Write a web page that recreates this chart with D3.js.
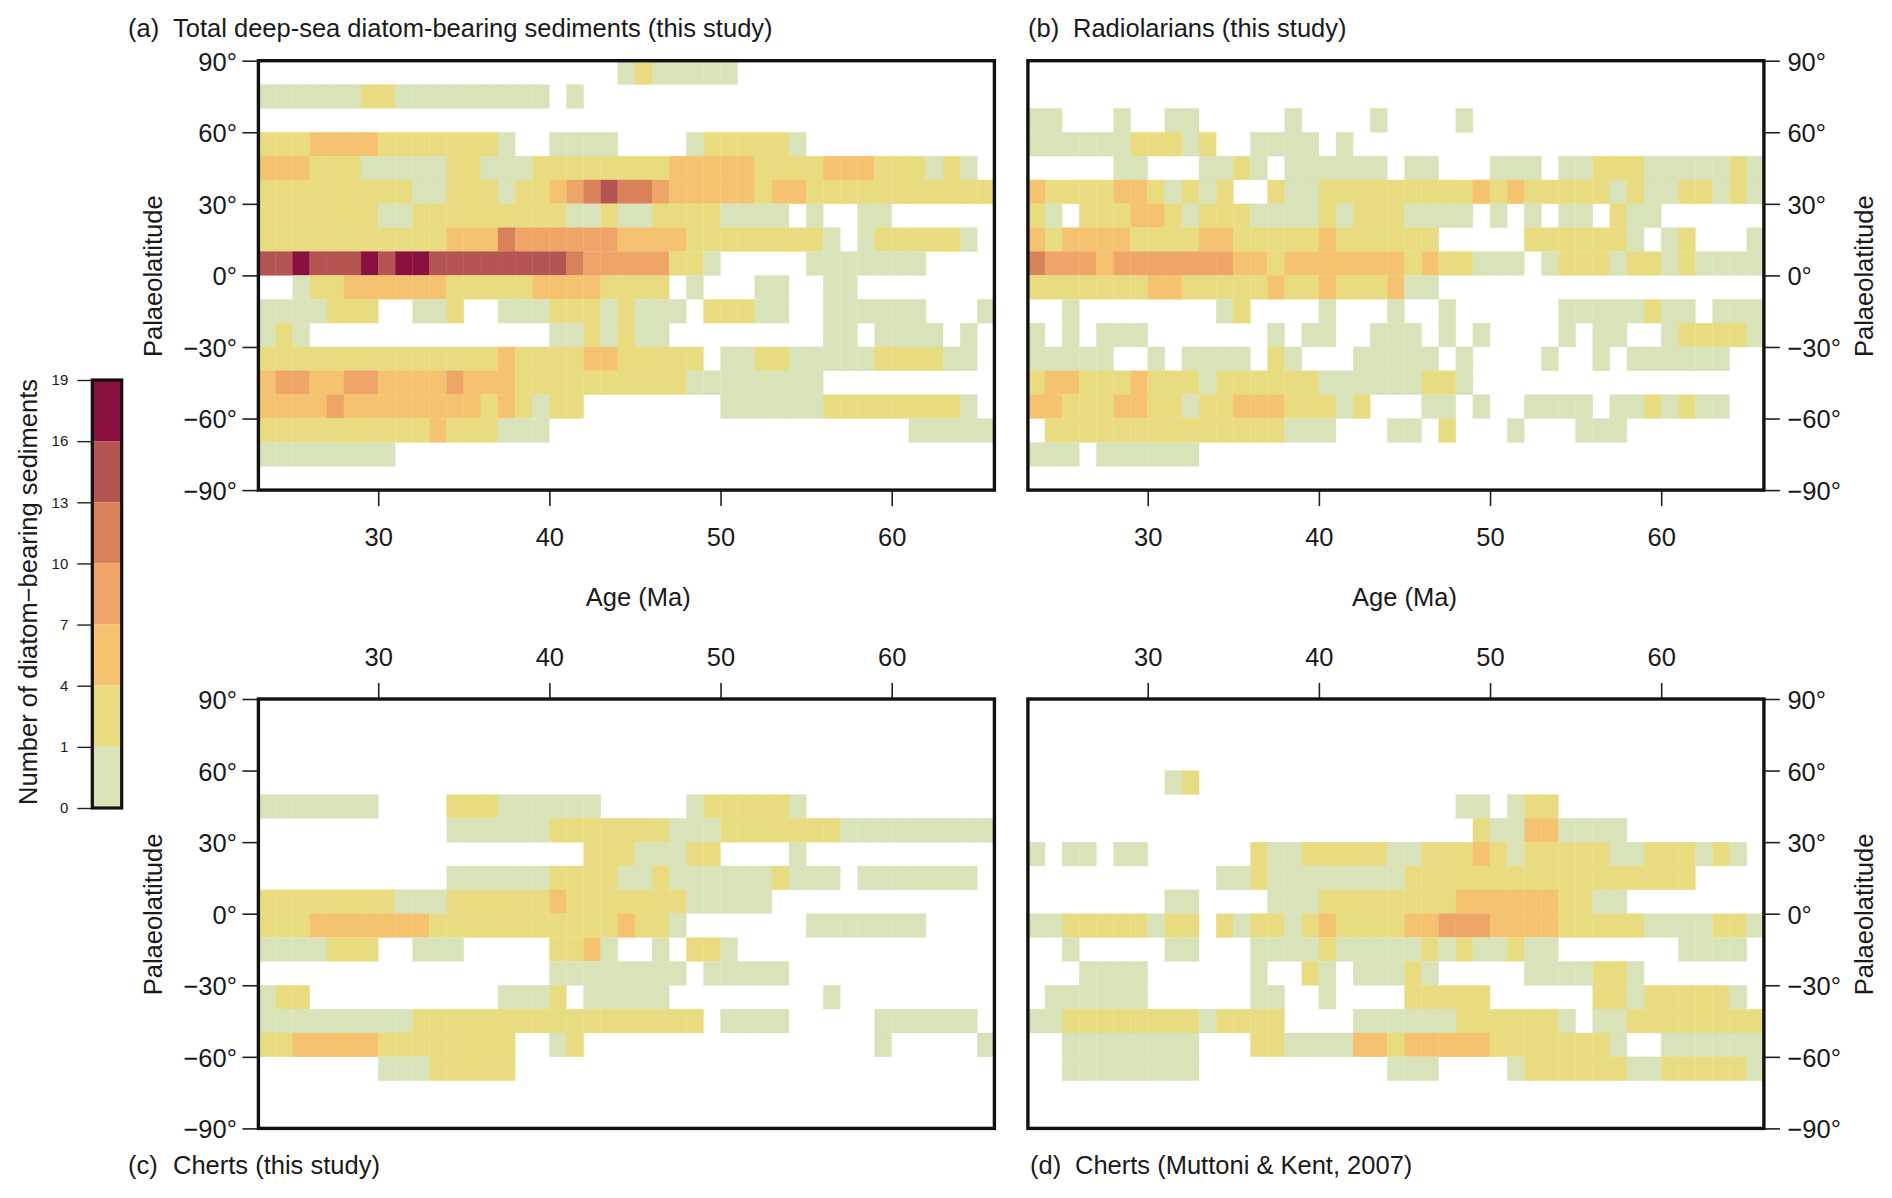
<!DOCTYPE html>
<html>
<head>
<meta charset="utf-8">
<script src="https://cdn.jsdelivr.net/npm/d3@7"></script>
<style>
body { margin: 0; background: #fff; }
text { font-family: "Liberation Sans", Arial, sans-serif; fill: #1a1a1a; }
</style>
</head>
<body>
<script>
// counts per cell, rows go from 80-90N down to 90-80S, columns are 1 Myr bins from 23 Ma
var diatoms = [
[0,0,0,0,0,0,0,0,0,0, 0,0,0,0,0,0,0,0,0,0, 0,1,3,1,1,1,1,1,0,0, 0,0,0,0,0,0,0,0,0,0, 0,0,0],
[1,1,1,1,1,1,3,3,1,1, 1,1,1,1,1,1,1,0,1,0, 0,0,0,0,0,0,0,0,0,0, 0,0,0,0,0,0,0,0,0,0, 0,0,0],
[0,0,0,0,0,0,0,0,0,0, 0,0,0,0,0,0,0,0,0,0, 0,0,0,0,0,0,0,0,0,0, 0,0,0,0,0,0,0,0,0,0, 0,0,0],
[3,3,3,6,6,6,6,3,3,3, 3,3,3,3,1,0,0,1,1,1, 1,0,0,0,0,1,3,3,3,3, 3,1,0,0,0,0,0,0,0,0, 0,0,0],
[6,6,6,3,3,3,1,1,1,1, 1,3,3,1,1,1,3,3,3,3, 3,3,3,3,6,6,6,6,6,3, 3,3,3,6,6,6,3,3,3,1, 3,1,0],
[3,3,3,3,3,3,3,3,3,1, 1,3,3,3,1,3,3,6,9,12, 15,12,12,9,6,6,6,6,6,3, 6,6,3,3,3,3,3,3,3,3, 3,3,3],
[3,3,3,3,3,3,3,1,1,3, 3,3,3,3,3,3,3,3,1,1, 3,1,1,3,3,3,3,1,1,1, 1,0,1,0,0,1,1,0,0,0, 0,0,0],
[3,3,3,3,3,3,3,3,3,3, 3,6,6,6,12,9,9,9,9,9, 9,6,6,6,6,3,3,3,3,3, 3,3,3,1,0,1,3,3,3,3, 3,1,0],
[15,15,18,15,15,15,18,15,18,18, 15,15,15,15,15,15,15,15,12,9, 9,9,9,9,3,3,1,0,0,0, 0,0,1,1,1,1,1,1,1,0, 0,0,0],
[0,0,1,3,3,6,6,6,6,6, 6,3,3,3,3,3,6,6,6,6, 3,3,3,3,0,1,0,0,0,1, 1,0,0,1,1,0,0,0,0,0, 0,0,0],
[1,1,1,1,3,3,3,0,0,1, 1,3,0,0,1,1,1,3,3,3, 1,3,1,1,1,0,3,3,3,1, 1,0,0,1,1,1,1,1,1,0, 0,0,1],
[1,3,1,0,0,0,0,0,0,0, 0,0,0,0,0,0,0,1,1,3, 1,3,1,1,0,0,0,0,0,0, 0,0,0,1,1,0,1,1,1,1, 0,1,0],
[3,3,3,3,3,3,3,3,3,3, 3,3,3,3,6,3,3,3,3,6, 6,3,3,3,3,3,0,1,1,3, 3,1,1,1,1,1,3,3,3,3, 1,1,0],
[6,9,9,6,6,9,9,6,6,6, 6,9,6,6,6,3,3,3,3,3, 3,3,3,3,3,1,1,1,1,1, 1,1,1,0,0,0,0,0,0,0, 0,0,0],
[6,6,6,6,9,6,6,6,6,6, 6,6,6,3,6,3,1,3,3,0, 0,0,0,0,0,0,0,1,1,1, 1,1,1,3,3,3,3,3,3,3, 3,1,0],
[3,3,3,3,3,3,3,3,3,3, 6,3,3,3,1,1,1,0,0,0, 0,0,0,0,0,0,0,0,0,0, 0,0,0,0,0,0,0,0,1,1, 1,1,1],
[1,1,1,1,1,1,1,1,0,0, 0,0,0,0,0,0,0,0,0,0, 0,0,0,0,0,0,0,0,0,0, 0,0,0,0,0,0,0,0,0,0, 0,0,0],
[0,0,0,0,0,0,0,0,0,0, 0,0,0,0,0,0,0,0,0,0, 0,0,0,0,0,0,0,0,0,0, 0,0,0,0,0,0,0,0,0,0, 0,0,0]
];

var radiolarians = [
[0,0,0,0,0,0,0,0,0,0, 0,0,0,0,0,0,0,0,0,0, 0,0,0,0,0,0,0,0,0,0, 0,0,0,0,0,0,0,0,0,0, 0,0,0],
[0,0,0,0,0,0,0,0,0,0, 0,0,0,0,0,0,0,0,0,0, 0,0,0,0,0,0,0,0,0,0, 0,0,0,0,0,0,0,0,0,0, 0,0,0],
[1,1,0,0,0,1,0,0,1,1, 0,0,0,0,0,1,0,0,0,0, 1,0,0,0,0,1,0,0,0,0, 0,0,0,0,0,0,0,0,0,0, 0,0,0],
[1,1,1,1,1,1,3,3,3,1, 3,0,0,1,1,1,1,0,1,0, 0,0,0,0,0,0,0,0,0,0, 0,0,0,0,0,0,0,0,0,0, 0,0,0],
[0,0,0,0,0,1,1,0,0,0, 1,1,3,1,0,1,1,1,1,1, 1,0,1,1,0,0,0,1,1,1, 0,1,1,3,3,3,1,1,1,1, 1,3,1],
[6,3,3,3,3,6,6,3,1,3, 1,3,0,0,3,1,1,3,3,3, 3,3,3,3,3,3,6,3,6,3, 3,3,3,3,1,3,1,1,3,3, 1,3,1],
[3,1,0,3,3,3,6,6,3,1, 3,3,3,1,1,1,1,3,1,3, 3,3,1,1,1,1,0,1,0,1, 0,1,1,0,3,1,1,0,0,0, 0,0,0],
[6,3,6,6,6,6,3,3,3,3, 6,6,3,3,3,3,3,6,3,3, 3,3,3,3,0,0,0,0,0,3, 3,3,3,3,3,1,0,1,3,0, 0,0,1],
[12,9,9,9,6,9,9,9,9,9, 9,9,6,6,3,6,6,6,6,6, 6,6,3,6,3,3,1,1,1,0, 1,3,3,3,1,3,3,1,3,1, 1,1,1],
[3,3,3,3,3,3,3,6,6,3, 3,3,3,3,6,3,3,6,3,3, 3,6,1,1,0,0,0,0,0,0, 0,0,0,0,0,0,0,0,0,0, 0,0,0],
[0,0,1,0,0,0,0,0,0,0, 0,1,3,0,0,0,0,1,0,0, 0,1,0,0,1,0,0,0,0,0, 0,1,1,1,1,1,3,1,1,0, 1,1,1],
[1,0,1,0,1,1,1,0,0,0, 0,0,0,0,1,0,1,1,0,0, 1,1,1,0,1,0,1,0,0,0, 0,1,0,1,1,0,0,1,3,3, 3,3,1],
[1,1,1,1,1,0,0,1,0,1, 1,1,1,0,3,1,0,0,0,1, 1,1,1,1,0,1,0,0,0,0, 1,0,0,1,0,1,1,1,1,1, 1,0,0],
[3,6,6,3,3,3,6,3,3,3, 1,3,3,3,3,3,3,1,1,1, 1,1,1,3,3,1,0,0,0,0, 0,0,0,0,0,0,0,0,0,0, 0,0,0],
[6,6,3,3,3,6,6,3,3,1, 3,3,6,6,6,3,3,3,1,3, 0,0,0,1,1,0,1,0,0,1, 1,1,1,0,1,1,3,1,3,1, 1,0,0],
[0,3,3,3,3,3,3,3,3,3, 3,3,3,3,3,1,1,1,0,0, 0,1,1,0,3,0,0,0,1,0, 0,0,1,1,1,0,0,0,0,0, 0,0,0],
[1,1,1,0,1,1,1,1,1,1, 0,0,0,0,0,0,0,0,0,0, 0,0,0,0,0,0,0,0,0,0, 0,0,0,0,0,0,0,0,0,0, 0,0,0],
[0,0,0,0,0,0,0,0,0,0, 0,0,0,0,0,0,0,0,0,0, 0,0,0,0,0,0,0,0,0,0, 0,0,0,0,0,0,0,0,0,0, 0,0,0]
];

var cherts = [
[0,0,0,0,0,0,0,0,0,0, 0,0,0,0,0,0,0,0,0,0, 0,0,0,0,0,0,0,0,0,0, 0,0,0,0,0,0,0,0,0,0, 0,0,0],
[0,0,0,0,0,0,0,0,0,0, 0,0,0,0,0,0,0,0,0,0, 0,0,0,0,0,0,0,0,0,0, 0,0,0,0,0,0,0,0,0,0, 0,0,0],
[0,0,0,0,0,0,0,0,0,0, 0,0,0,0,0,0,0,0,0,0, 0,0,0,0,0,0,0,0,0,0, 0,0,0,0,0,0,0,0,0,0, 0,0,0],
[0,0,0,0,0,0,0,0,0,0, 0,0,0,0,0,0,0,0,0,0, 0,0,0,0,0,0,0,0,0,0, 0,0,0,0,0,0,0,0,0,0, 0,0,0],
[1,1,1,1,1,1,1,0,0,0, 0,3,3,3,1,1,1,1,1,1, 0,0,0,0,0,1,3,3,3,3, 3,1,0,0,0,0,0,0,0,0, 0,0,0],
[0,0,0,0,0,0,0,0,0,0, 0,1,1,1,1,1,1,3,3,3, 3,3,3,3,1,1,1,3,3,3, 3,3,3,3,1,1,1,1,1,1, 1,1,1],
[0,0,0,0,0,0,0,0,0,0, 0,0,0,0,0,0,0,0,0,3, 3,3,1,1,1,3,3,0,0,0, 0,1,0,0,0,0,0,0,0,0, 0,0,0],
[0,0,0,0,0,0,0,0,0,0, 0,1,1,1,1,1,1,3,3,3, 3,1,1,3,1,1,1,1,1,1, 3,1,1,1,0,1,1,1,1,1, 1,1,0],
[3,3,3,3,3,3,3,3,1,1, 1,3,3,3,3,3,3,6,3,3, 3,3,3,3,3,1,1,1,1,1, 0,0,0,0,0,0,0,0,0,0, 0,0,0],
[3,3,3,6,6,6,6,6,6,6, 3,3,3,3,3,3,3,3,3,3, 3,6,3,3,1,0,0,0,0,0, 0,0,1,1,1,1,1,1,1,0, 0,0,0],
[1,1,1,1,3,3,3,0,0,1, 1,1,0,0,0,0,0,3,3,6, 1,0,0,1,0,3,3,1,0,0, 0,0,0,0,0,0,0,0,0,0, 0,0,0],
[0,0,0,0,0,0,0,0,0,0, 0,0,0,0,0,0,0,1,1,1, 1,1,1,1,1,0,1,1,1,1, 1,0,0,0,0,0,0,0,0,0, 0,0,0],
[1,3,3,0,0,0,0,0,0,0, 0,0,0,0,1,1,1,3,0,1, 1,1,1,1,0,0,0,0,0,0, 0,0,0,1,0,0,0,0,0,0, 0,0,0],
[1,1,1,1,1,1,1,1,1,3, 3,3,3,3,3,3,3,3,3,3, 3,3,3,3,3,3,0,1,1,1, 1,0,0,0,0,0,1,1,1,1, 1,1,0],
[3,3,6,6,6,6,6,3,3,3, 3,3,3,3,3,0,0,1,3,0, 0,0,0,0,0,0,0,0,0,0, 0,0,0,0,0,0,1,0,0,0, 0,0,1],
[0,0,0,0,0,0,0,1,1,1, 3,3,3,3,3,0,0,0,0,0, 0,0,0,0,0,0,0,0,0,0, 0,0,0,0,0,0,0,0,0,0, 0,0,0],
[0,0,0,0,0,0,0,0,0,0, 0,0,0,0,0,0,0,0,0,0, 0,0,0,0,0,0,0,0,0,0, 0,0,0,0,0,0,0,0,0,0, 0,0,0],
[0,0,0,0,0,0,0,0,0,0, 0,0,0,0,0,0,0,0,0,0, 0,0,0,0,0,0,0,0,0,0, 0,0,0,0,0,0,0,0,0,0, 0,0,0]
];

var chertsMK = [
[0,0,0,0,0,0,0,0,0,0, 0,0,0,0,0,0,0,0,0,0, 0,0,0,0,0,0,0,0,0,0, 0,0,0,0,0,0,0,0,0,0, 0,0,0],
[0,0,0,0,0,0,0,0,0,0, 0,0,0,0,0,0,0,0,0,0, 0,0,0,0,0,0,0,0,0,0, 0,0,0,0,0,0,0,0,0,0, 0,0,0],
[0,0,0,0,0,0,0,0,0,0, 0,0,0,0,0,0,0,0,0,0, 0,0,0,0,0,0,0,0,0,0, 0,0,0,0,0,0,0,0,0,0, 0,0,0],
[0,0,0,0,0,0,0,0,1,3, 0,0,0,0,0,0,0,0,0,0, 0,0,0,0,0,0,0,0,0,0, 0,0,0,0,0,0,0,0,0,0, 0,0,0],
[0,0,0,0,0,0,0,0,0,0, 0,0,0,0,0,0,0,0,0,0, 0,0,0,0,0,1,1,0,1,3, 3,0,0,0,0,0,0,0,0,0, 0,0,0],
[0,0,0,0,0,0,0,0,0,0, 0,0,0,0,0,0,0,0,0,0, 0,0,0,0,0,0,3,1,1,6, 6,1,1,1,1,0,0,0,0,0, 0,0,0],
[1,0,1,1,0,1,1,0,0,0, 0,0,0,3,1,1,3,3,3,3, 3,1,1,3,3,3,6,3,1,3, 3,3,3,3,1,1,3,3,3,1, 3,1,0],
[0,0,0,0,0,0,0,0,0,0, 0,1,1,3,1,1,1,1,1,1, 1,1,3,3,3,3,3,3,3,3, 3,3,3,3,3,3,3,3,3,0, 0,0,0],
[0,0,0,0,0,0,0,0,1,1, 0,0,0,0,1,1,1,3,3,3, 3,3,3,3,3,6,6,6,6,6, 6,3,3,1,1,0,0,0,0,0, 0,0,0],
[1,1,3,3,3,3,3,1,3,3, 0,3,1,3,3,1,3,6,3,3, 3,3,6,6,9,9,9,6,6,6, 6,3,3,3,3,3,1,1,1,1, 3,3,1],
[0,0,1,0,0,0,0,0,1,1, 0,0,0,1,1,1,1,3,1,1, 1,1,1,3,1,3,1,1,3,1, 1,0,0,0,0,0,0,0,1,1, 1,1,0],
[0,0,0,1,1,1,1,0,0,0, 0,0,0,1,0,0,3,1,0,1, 1,1,3,1,0,0,0,0,0,1, 1,1,1,3,3,1,0,0,0,0, 0,0,0],
[0,1,1,1,1,1,1,0,0,0, 0,0,0,1,1,0,0,1,0,0, 0,0,3,3,3,3,3,0,0,0, 0,0,0,3,3,1,3,3,3,3, 3,1,0],
[1,1,3,3,3,3,3,3,3,3, 1,3,3,3,3,0,0,0,0,1, 1,1,1,1,1,3,3,3,3,3, 3,1,0,1,1,3,3,3,3,3, 3,3,3],
[0,0,1,1,1,1,1,1,1,1, 0,0,0,3,3,1,1,1,1,6, 6,3,6,6,6,6,6,3,3,3, 3,3,3,3,1,0,0,1,1,1, 1,1,1],
[0,0,1,1,1,1,1,1,1,1, 0,0,0,0,0,0,0,0,0,0, 0,1,1,1,0,0,0,0,1,3, 3,3,3,3,3,1,1,3,3,3, 3,3,1],
[0,0,0,0,0,0,0,0,0,0, 0,0,0,0,0,0,0,0,0,0, 0,0,0,0,0,0,0,0,0,0, 0,0,0,0,0,0,0,0,0,0, 0,0,0],
[0,0,0,0,0,0,0,0,0,0, 0,0,0,0,0,0,0,0,0,0, 0,0,0,0,0,0,0,0,0,0, 0,0,0,0,0,0,0,0,0,0, 0,0,0]
];

var ageTicks = [30, 40, 50, 60];
var latTicks = [-90, -60, -30, 0, 30, 60, 90];
var legendLabels = ["19", "16", "13", "10", "7", "4", "1", "0"];
var colors = ["#d9e3b9", "#e9dc80", "#f5c270", "#eea567", "#d98159", "#b55551", "#8a1040"];

var w = 1892, h = 1198;
var fontSize = 25.5;
var svg = d3.select("body").append("svg")
  .attr("width", w)
  .attr("height", h)
  .style("display", "block");

// 1, 2-4, 5-7, 8-10, 11-13, 14-16, 17-19
var color = d3.scaleThreshold().domain([2, 5, 8, 11, 14, 17]).range(colors);

function latLabel(d) {
  return (d < 0 ? "\u2212" + (-d) : d) + "\u00b0";
}

function panel(counts, left, top, tag, tagX, title, titleX, side, xSide, xTitleX) {
  var x = d3.scaleLinear().domain([23, 66]).range([left, left + 736]);
  var y = d3.scaleLinear().domain([-90, 90]).range([top + 429.4, top]);
  var g = svg.append("g");

  counts.forEach(function(row, r) {
    g.append("g").selectAll("rect")
      .data(row.map(function(v, i) { return {v: v, age: 23 + i, lat: 90 - r * 10}; })
        .filter(function(d) { return d.v > 0; }))
      .enter()
      .append("rect")
      .attr("x", function(d) { return x(d.age); })
      .attr("y", function(d) { return y(d.lat); })
      .attr("width", function(d) { return x(d.age + 1) - x(d.age); })
      .attr("height", function(d) { return y(d.lat - 10) - y(d.lat); })
      .attr("fill", function(d) { return color(d.v); })
      .attr("stroke", function(d) { return color(d.v); })
      .attr("stroke-width", 0.3);
  });

  // x axis
  var xAxis = (xSide == "bottom" ? d3.axisBottom(x) : d3.axisTop(x))
    .tickValues(ageTicks).tickSize(16).tickPadding(xSide == "bottom" ? 21.6 : 17).tickFormat(d3.format("d"));
  g.append("g")
    .attr("transform", "translate(0," + (xSide == "bottom" ? top + 429.4 : top) + ")")
    .call(xAxis)
    .call(styleAxis);

  // y axis
  var yAxis = (side == "left" ? d3.axisLeft(y) : d3.axisRight(y))
    .tickValues(latTicks).tickSize(16).tickPadding(side == "left" ? 5.5 : 7.5).tickFormat(latLabel);
  g.append("g")
    .attr("transform", "translate(" + (side == "left" ? left : left + 736) + ",0)")
    .call(yAxis)
    .call(styleAxis)
    .selectAll(".tick text").attr("dy", "0.37em");

  // box
  g.append("rect")
    .attr("x", left)
    .attr("y", top)
    .attr("width", 736)
    .attr("height", 429.4)
    .attr("fill", "none")
    .attr("stroke", "#111")
    .attr("stroke-width", 3.4);

  // labels
  var labelY = top < 300 ? 36.7 : 1173.5;
  g.append("text").attr("x", tagX).attr("y", labelY)
    .attr("font-size", fontSize).text(tag);
  g.append("text").attr("x", titleX).attr("y", labelY)
    .attr("font-size", fontSize).text(title);

  var ylabX = side == "left" ? 161.7 : 1872.7;
  g.append("text")
    .attr("transform", "translate(" + ylabX + "," + (top + 215.5) + ") rotate(-90)")
    .attr("text-anchor", "middle")
    .attr("font-size", fontSize)
    .text("Palaeolatitude");

  if (xTitleX) {
    g.append("text")
      .attr("x", xTitleX)
      .attr("y", 606)
      .attr("text-anchor", "middle")
      .attr("font-size", fontSize)
      .text("Age (Ma)");
  }
}

function styleAxis(sel) {
  sel.select(".domain").remove();
  sel.selectAll(".tick line").attr("stroke", "#222").attr("stroke-width", 1.6);
  sel.selectAll(".tick text").attr("font-size", fontSize).attr("fill", "#1a1a1a");
}

panel(diatoms, 258.4, 60.7, "(a)", 128, "Total deep-sea diatom-bearing sediments (this study)", 173, "left", "bottom", 638.3);
panel(radiolarians, 1027.9, 60.7, "(b)", 1028, "Radiolarians (this study)", 1073, "right", "bottom", 1404.5);
panel(cherts, 258.4, 699, "(c)", 128, "Cherts (this study)", 173, "left", "top", null);
panel(chertsMK, 1027.9, 699, "(d)", 1030, "Cherts (Muttoni & Kent, 2007)", 1075, "right", "top", null);

// colour key
var keyY = d3.scalePoint().domain(legendLabels).range([380, 808]);
var key = svg.append("g");
legendLabels.slice(0, -1).forEach(function(d, i) {
  key.append("rect")
    .attr("x", 92.3)
    .attr("y", keyY(d))
    .attr("width", 29.4)
    .attr("height", keyY(legendLabels[i + 1]) - keyY(d))
    .attr("fill", colors[colors.length - 1 - i]);
});
key.append("g")
  .attr("transform", "translate(92.3,0)")
  .call(d3.axisLeft(keyY).tickSize(15).tickPadding(9))
  .call(function(sel) {
    sel.select(".domain").remove();
    sel.selectAll(".tick line").attr("stroke", "#222").attr("stroke-width", 1.4);
    sel.selectAll(".tick text").attr("font-size", 15).attr("fill", "#1a1a1a");
  });
key.append("rect")
  .attr("x", 92.3)
  .attr("y", 380)
  .attr("width", 29.4)
  .attr("height", 428)
  .attr("fill", "none")
  .attr("stroke", "#111")
  .attr("stroke-width", 3.2);
key.append("text")
  .attr("transform", "translate(37,592) rotate(-90)")
  .attr("text-anchor", "middle")
  .attr("font-size", fontSize)
  .text("Number of diatom\u2212bearing sediments");
</script>
</body>
</html>
